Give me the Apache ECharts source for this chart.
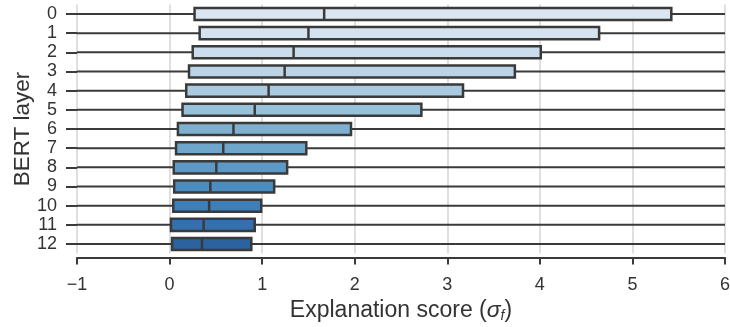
<!DOCTYPE html>
<html><head><meta charset="utf-8">
<script src="https://cdn.jsdelivr.net/npm/echarts@6/dist/echarts.min.js"></script>
<style>html,body{margin:0;padding:0;background:#fff}#c{width:730px;height:327px}</style>
</head><body><div id="c"></div>
<script>
const layers = ['0','1','2','3','4','5','6','7','8','9','10','11','12'];
const q1     = [0.27, 0.325, 0.25, 0.21, 0.18, 0.14, 0.09, 0.07, 0.045, 0.05, 0.04, 0.015, 0.027];
const median = [1.67, 1.50, 1.34, 1.243, 1.07, 0.92, 0.69, 0.58, 0.505, 0.44, 0.427, 0.368, 0.35];
const q3     = [5.42, 4.64, 4.01, 3.73, 3.17, 2.72, 1.96, 1.477, 1.27, 1.13, 0.99, 0.92, 0.883];
const colors = ['#dbe6f1','#d5e2ef','#cbdcec','#bcd3e6','#a9cadf','#98c1da','#80b0d0','#6ea6cc','#5c99c6','#4b8dc1','#3d7fb9','#3370ad','#2b62a0'];
const xTicks = [-1, 0, 1, 2, 3, 4, 5, 6];

const FONT = '"Liberation Sans", Arial, Helvetica, sans-serif';
const dark = '#3a3a3a';

const chart = echarts.init(document.getElementById('c'), null, {renderer: 'canvas'});
const data = layers.map((l, i) => [i, q1[i], median[i], q3[i]]);

chart.setOption({
  animation: false,
  grid: {left: 77, right: 5, top: 4.4, bottom: 73.4, containLabel: false, outerBoundsMode: 'none'},
  xAxis: {
    type: 'value', min: xTicks[0], max: xTicks[xTicks.length - 1], interval: 1,
    offset: 4,
    axisLine: {show: true, onZero: false, lineStyle: {color: dark, width: 2}},
    axisTick: {show: true, length: 7, lineStyle: {color: dark, width: 2}},
    axisLabel: {fontFamily: FONT, fontSize: 18, color: '#333', margin: 18,
      formatter: v => (v < 0 ? '\u2212' + Math.abs(v) : String(v))},
    splitLine: {show: true, lineStyle: {color: '#d4d4d4', width: 1.5}},
    name: '{n|Explanation score (}{s|σ}{f|f}{n|)}',
    nameLocation: 'middle', nameGap: 41, nameMoveOverlap: false,
    nameTextStyle: {
      rich: {
        n: {fontFamily: FONT, fontSize: 23, color: '#333'},
        s: {fontFamily: FONT, fontSize: 23, color: '#333', fontStyle: 'italic'},
        f: {fontFamily: FONT, fontSize: 14, color: '#333', fontStyle: 'italic', padding: [11, 0, 0, 0]}
      }
    }
  },
  yAxis: {
    type: 'category', data: layers, inverse: true,
    axisLine: {show: false, onZero: false},
    axisTick: {show: true, length: 11, alignWithLabel: true, interval: 0, lineStyle: {color: dark, width: 2}},
    axisLabel: {fontFamily: FONT, fontSize: 18, color: '#333', margin: 20, interval: 0},
    splitLine: {show: false},
    name: 'BERT layer', nameLocation: 'middle', nameGap: 43, nameRotate: 90, nameMoveOverlap: false,
    nameTextStyle: {fontFamily: FONT, fontSize: 22.5, color: '#333'}
  },
  series: [{
    type: 'custom',
    clip: false,
    data: data,
    encode: {x: [1, 2, 3], y: 0},
    renderItem: function (params, api) {
      const i = api.value(0);
      const pL = api.coord([xTicks[0], i]);
      const pR = api.coord([xTicks[xTicks.length - 1], i]);
      const a = api.coord([api.value(1), i]);
      const m = api.coord([api.value(2), i]);
      const b = api.coord([api.value(3), i]);
      const band = api.size([0, 1])[1];
      const h = band * 0.63;
      const y = a[1];
      return {
        type: 'group',
        children: [
          {type: 'line', shape: {x1: pL[0], y1: y, x2: pR[0], y2: y},
           style: {stroke: dark, lineWidth: 2}},
          {type: 'rect', shape: {x: a[0], y: y - h / 2, width: b[0] - a[0], height: h},
           style: {fill: colors[i], stroke: dark, lineWidth: 2.5}},
          {type: 'line', shape: {x1: m[0], y1: y - h / 2, x2: m[0], y2: y + h / 2},
           style: {stroke: dark, lineWidth: 2.5}}
        ]
      };
    }
  }]
});
</script>
</body></html>
